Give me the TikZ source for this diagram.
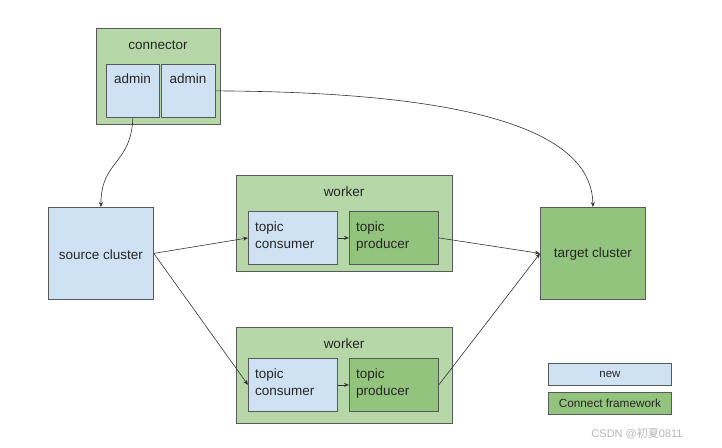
\documentclass[tikz,border=0pt]{standalone}
\usepackage{fontspec}
\setmainfont{Liberation Sans}
\newfontfamily\cjkfont{Noto Sans CJK SC}
\usetikzlibrary{arrows.meta}
\definecolor{lblue}{HTML}{CFE2F3}
\definecolor{dgreen}{HTML}{93C47D}
\definecolor{lgreen}{HTML}{B6D7A8}
\definecolor{edge}{HTML}{595959}
\begin{document}
\begin{tikzpicture}[x=1pt,y=-1pt,
  box/.style={draw=edge, line width=0.8pt, anchor=north west, inner sep=0pt},
  lbl/.style={font=\fontsize{13.5}{16}\selectfont, text=black!85},
  inlbl/.style={font=\fontsize{13.5}{17}\selectfont, text=black!85, align=left, anchor=north west, inner sep=0pt},
  conn/.style={draw=black!80, line width=0.6pt, -{Stealth[length=5pt,width=4pt]}}]
\useasboundingbox[fill=white] (0,0) rectangle (722,447);
% connector
\node[box, fill=lgreen, minimum width=124pt, minimum height=96pt] (connector) at (96,28) {};
\node[lbl] (connlbl) at (158,45) {connector};
\node[box, fill=lblue, minimum width=53pt, minimum height=53pt] (admin1) at (106,64) {};
\node[box, fill=lblue, minimum width=54pt, minimum height=53pt] (admin2) at (161,64) {};
\node[lbl] (a1lbl) at (132.5,79) {admin};
\node[lbl] (a2lbl) at (188,79) {admin};
% source / target
\node[box, fill=lblue, minimum width=105pt, minimum height=92pt] (source) at (48,207) {};
\node[lbl] (srclbl) at ([yshift=-1pt]source.center) {source cluster};
\node[box, fill=dgreen, minimum width=105pt, minimum height=92pt] (target) at (540,207) {};
\node[lbl] (tgtlbl) at ([yshift=-1pt]target.center) {target cluster};
% worker 1
\node[box, fill=lgreen, minimum width=216pt, minimum height=96pt] (worker1) at (236,175) {};
\node[lbl] (w1lbl) at (344,192) {worker};
\node[box, fill=lblue, minimum width=89pt, minimum height=53pt] (cons1) at (248,211) {};
\node[box, fill=dgreen, minimum width=89pt, minimum height=53pt] (prod1) at (349,211) {};
\node[inlbl] (c1lbl) at (255,221.5) {topic\\consumer};
\node[inlbl] (p1lbl) at (356,221.5) {topic\\producer};
% worker 2
\node[box, fill=lgreen, minimum width=216pt, minimum height=96pt] (worker2) at (236,327) {};
\node[lbl] (w2lbl) at (344,344) {worker};
\node[box, fill=lblue, minimum width=89pt, minimum height=53pt] (cons2) at (248,358) {};
\node[box, fill=dgreen, minimum width=89pt, minimum height=53pt] (prod2) at (349,358) {};
\node[inlbl] (c2lbl) at (255,368.5) {topic\\consumer};
\node[inlbl] (p2lbl) at (356,368.5) {topic\\producer};
% legend
\node[box, fill=lblue, minimum width=123pt, minimum height=22pt] (lnew) at (548,363) {};
\node[font=\fontsize{11.5}{13}\selectfont, text=black!85] (lnewlbl) at (lnew.center) {new};
\node[box, fill=dgreen, minimum width=123pt, minimum height=22pt] (lcf) at (548,392) {};
\node[font=\fontsize{11.8}{13}\selectfont, text=black!85] (lcflbl) at (lcf.center) {Connect framework};
% watermark
\node[font=\fontsize{11}{13}\selectfont, text=black!28] (wm) at (637,434) {CSDN @{\cjkfont 初夏}0811};
% connectors
\draw[conn] (admin1.south) .. controls (131,165) and (101,160) .. (source.north);
\draw[conn] (admin2.east) .. controls (470,92) and (592,130) .. (target.north);
\draw[conn] (source.east) -- (cons1.west);
\draw[conn] (source.east) -- (cons2.west);
\draw[conn] (cons1.east) -- (prod1.west);
\draw[conn] (cons2.east) -- (prod2.west);
\draw[conn] (prod1.east) -- (target.west);
\draw[conn] (prod2.east) -- (target.west);
\end{tikzpicture}
\end{document}
